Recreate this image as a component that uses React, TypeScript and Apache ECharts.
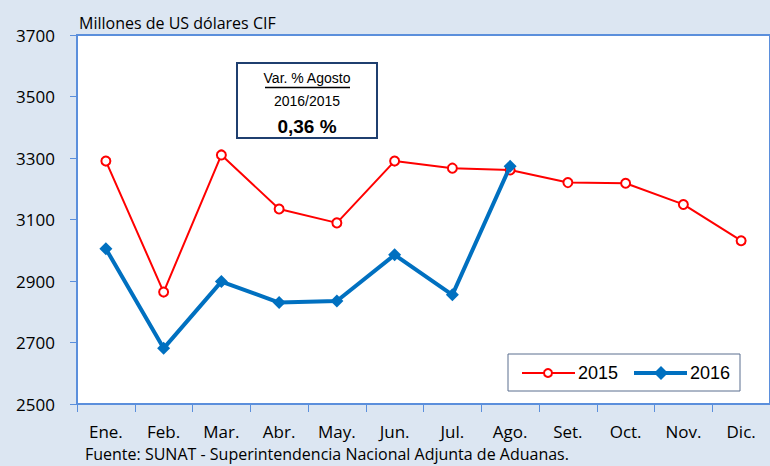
import React, { useEffect, useRef } from "react";
import * as echarts from "echarts";

const months = ["Ene.", "Feb.", "Mar.", "Abr.", "May.", "Jun.", "Jul.", "Ago.", "Set.", "Oct.", "Nov.", "Dic."];
const values2015 = [3290, 2864, 3310, 3134, 3089, 3290, 3267, 3261, 3220, 3218, 3149, 3031];
const values2016 = [3005, 2681, 2898, 2830, 2835, 2985, 2855, 3273];
const yTicks = [2500, 2700, 2900, 3100, 3300, 3500, 3700];

const unitLabel = "Millones de US dólares CIF";
const sourceLabel = "Fuente: SUNAT - Superintendencia Nacional Adjunta de Aduanas.";
const boxTitle = "Var. % Agosto";
const boxSub = "2016/2015";
const boxValue = "0,36 %";

const AXIS_BLUE = "#5b8fdc";
const FONT = "'Liberation Sans', Arial, sans-serif";
const FONT2 = "'Open Sans', 'Liberation Sans', sans-serif";

export default function App() {
  const ref = useRef<HTMLDivElement>(null);
  useEffect(() => {
    if (!ref.current) return;
    const chart = echarts.init(ref.current, undefined, { renderer: "svg" });
    chart.setOption({
      animation: false,
      backgroundColor: "#dce6f2",
      grid: {
        left: 77,
        top: 35,
        right: -1,
        bottom: 62,
        show: true,
        backgroundColor: "#ffffff",
        borderColor: AXIS_BLUE,
        borderWidth: 2,
      },
      legend: { show: false },
      xAxis: {
        type: "category",
        data: months,
        boundaryGap: true,
        axisLine: { lineStyle: { color: AXIS_BLUE, width: 2 } },
        axisTick: { show: true, length: 8, lineStyle: { color: AXIS_BLUE, width: 1 } },
        axisLabel: { color: "#000", fontSize: 17, fontFamily: FONT2, margin: 19 },
        splitLine: { show: false },
      },
      yAxis: {
        type: "value",
        min: yTicks[0],
        max: yTicks[yTicks.length - 1],
        interval: 200,
        axisLine: { show: true, lineStyle: { color: AXIS_BLUE, width: 2 } },
        axisTick: { show: true, length: 7, lineStyle: { color: AXIS_BLUE, width: 1 } },
        axisLabel: {
          color: "#000",
          fontSize: 17,
          fontFamily: FONT2,
          margin: 22,
          formatter: (v: number) => String(v),
        },
        splitLine: { show: false },
      },
      series: [
        {
          name: "2015",
          type: "line",
          data: values2015,
          symbol: "circle",
          symbolSize: 9,
          lineStyle: { color: "#ff0000", width: 2 },
          itemStyle: { color: "#ffffff", borderColor: "#ff0000", borderWidth: 2 },
          z: 2,
        },
        {
          name: "2016",
          type: "line",
          data: values2016,
          symbol: "diamond",
          symbolSize: 13,
          lineStyle: { color: "#0070c0", width: 4 },
          itemStyle: { color: "#0070c0" },
          z: 3,
        },
      ],
      graphic: [
        {
          type: "text",
          x: 79,
          y: 31,
          style: { text: unitLabel, font: `16px ${FONT2}`, fill: "#000", verticalAlign: "bottom" },
        },
        {
          type: "text",
          x: 85,
          y: 462,
          style: { text: sourceLabel, font: `16px ${FONT2}`, fill: "#000", verticalAlign: "bottom" },
        },
        {
          type: "rect",
          shape: { x: 237, y: 63, width: 140, height: 75 },
          style: { fill: "#ffffff", stroke: "#1f3f6f", lineWidth: 2 },
          z: 10,
        },
        {
          type: "text",
          x: 307,
          y: 78,
          style: { text: boxTitle, font: `14px ${FONT}`, fill: "#000", align: "center", verticalAlign: "middle" },
          z: 11,
        },
        {
          type: "line",
          shape: { x1: 265, y1: 87.5, x2: 350, y2: 87.5 },
          style: { stroke: "#000", lineWidth: 1.5 },
          z: 11,
        },
        {
          type: "text",
          x: 307,
          y: 101,
          style: { text: boxSub, font: `14px ${FONT}`, fill: "#000", align: "center", verticalAlign: "middle" },
          z: 11,
        },
        {
          type: "text",
          x: 307,
          y: 126,
          style: { text: boxValue, font: `bold 19px ${FONT}`, fill: "#000", align: "center", verticalAlign: "middle" },
          z: 11,
        },
        {
          type: "rect",
          shape: { x: 508, y: 354, width: 232, height: 37 },
          style: { fill: "#ffffff", stroke: "#5a6f8f", lineWidth: 1 },
          z: 10,
        },
        {
          type: "line",
          shape: { x1: 522, y1: 373, x2: 575, y2: 373 },
          style: { stroke: "#ff0000", lineWidth: 2 },
          z: 11,
        },
        {
          type: "circle",
          shape: { cx: 548, cy: 373, r: 4 },
          style: { fill: "#ffffff", stroke: "#ff0000", lineWidth: 2 },
          z: 12,
        },
        {
          type: "text",
          x: 578,
          y: 373,
          style: { text: "2015", font: `18px ${FONT}`, fill: "#000", verticalAlign: "middle" },
          z: 11,
        },
        {
          type: "line",
          shape: { x1: 634, y1: 373, x2: 687, y2: 373 },
          style: { stroke: "#0070c0", lineWidth: 4 },
          z: 11,
        },
        {
          type: "polygon",
          shape: { points: [[661, 366], [668, 373], [661, 380], [654, 373]] },
          style: { fill: "#0070c0" },
          z: 12,
        },
        {
          type: "text",
          x: 690,
          y: 373,
          style: { text: "2016", font: `18px ${FONT}`, fill: "#000", verticalAlign: "middle" },
          z: 11,
        },
      ],
    });
    return () => chart.dispose();
  }, []);
  return <div ref={ref} style={{ width: 770, height: 466, position: "fixed", left: 0, top: 0 }} />;
}
